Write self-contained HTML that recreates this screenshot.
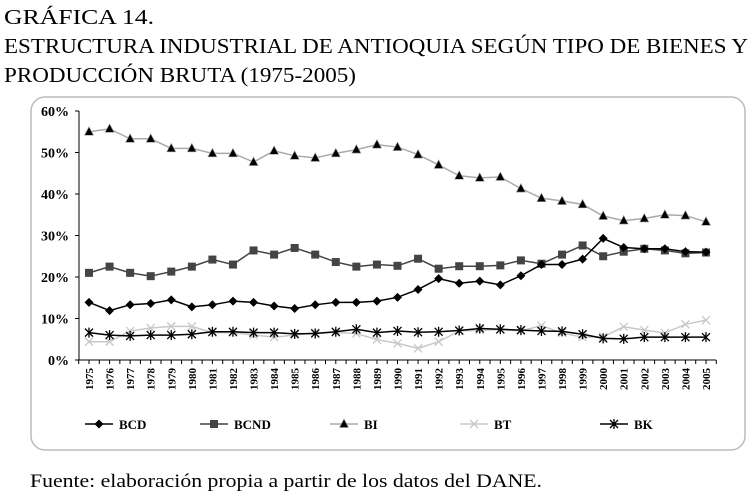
<!DOCTYPE html>
<html><head><meta charset="utf-8"><style>
html,body{margin:0;padding:0;background:#fff;}
svg{display:block;font-family:"Liberation Serif",serif;}
</style></head><body>
<svg id="c" width="752" height="495" viewBox="0 0 752 495">
<text x="4" y="24" font-size="21" textLength="150" lengthAdjust="spacingAndGlyphs">GRÁFICA 14.</text>
<text x="4" y="53" font-size="21" textLength="744" lengthAdjust="spacingAndGlyphs">ESTRUCTURA INDUSTRIAL DE ANTIOQUIA SEGÚN TIPO DE BIENES Y</text>
<text x="4" y="82" font-size="21" textLength="352" lengthAdjust="spacingAndGlyphs">PRODUCCIÓN BRUTA (1975-2005)</text>
<rect x="31" y="97" width="714" height="353" rx="14" fill="none" stroke="#bbb" stroke-width="1.5"/>
<text x="30" y="487" font-size="19" textLength="512" lengthAdjust="spacingAndGlyphs">Fuente: elaboración propia a partir de los datos del DANE.</text>
<g id="plot"></g>
</svg>
<script>
const years = [1975,1976,1977,1978,1979,1980,1981,1982,1983,1984,1985,1986,1987,1988,1989,1990,1991,1992,1993,1994,1995,1996,1997,1998,1999,2000,2001,2002,2003,2004,2005];
const yTicks = [0,10,20,30,40,50,60];
const seriesNames = ["BCD","BCND","BI","BT","BK"];
const bcd = [13.9,11.9,13.3,13.6,14.5,12.8,13.3,14.2,13.9,13,12.4,13.3,13.9,13.9,14.2,15.1,17,19.6,18.5,19,18.1,20.3,23,23,24.3,29.3,27.1,26.8,26.8,26.1,26];
const bcnd = [21,22.5,21,20.2,21.3,22.5,24.2,23,26.4,25.4,27,25.4,23.6,22.5,23,22.7,24.4,22,22.6,22.6,22.8,24,23.2,25.4,27.6,25,26.1,26.8,26.4,25.7,25.9];
const bi = [55,55.7,53.3,53.3,51,51,49.8,49.8,47.7,50.4,49.2,48.7,49.8,50.7,51.9,51.3,49.5,47,44.4,43.9,44.1,41.3,39,38.3,37.5,34.7,33.6,34.1,35,34.8,33.3];
const bt = [4.4,4.4,7,7.7,8.1,8.1,6.6,6.6,6,5.5,6,6.6,6.6,6.4,4.9,4,2.8,4.4,7,7.2,7.3,7,8.3,6.5,5.5,5.6,8,7.2,6.5,8.6,9.6];
const bk = [6.6,6,5.8,6,6,6.2,6.8,6.8,6.6,6.6,6.3,6.4,6.8,7.4,6.6,7,6.7,6.8,7.1,7.6,7.4,7.2,7,6.9,6.2,5.2,5.1,5.5,5.5,5.5,5.5];

const NS="http://www.w3.org/2000/svg";
const g=document.getElementById('plot');
const X0=89, STEP=(706-89)/30, Y0=360, YTOP=111;
const xS=i=>X0+i*STEP;
const yS=v=>Y0-(v/60)*(Y0-YTOP);
function el(t,a,p){const e=document.createElementNS(NS,t);for(const k in a)e.setAttribute(k,a[k]);(p||g).appendChild(e);return e;}

let ax=el('line',{x1:79,y1:YTOP,x2:79,y2:Y0,stroke:'#000','stroke-width':1});


let xa=el('line',{x1:79,y1:Y0,x2:716,y2:Y0,stroke:'#000','stroke-width':1});


yTicks.forEach(v=>{
  el('line',{x1:75,y1:yS(v),x2:79,y2:yS(v),stroke:'#000'});
  const t=el('text',{x:69,y:yS(v)+5,'font-size':14,'font-weight':'bold','text-anchor':'end'});
  t.textContent=v+'%';
  
  
});
years.forEach((yr,i)=>{
  const x=xS(i);
  el('line',{x1:x,y1:Y0,x2:x,y2:Y0+4,stroke:'#000'});
  el('line',{x1:x+STEP/2,y1:Y0,x2:x+STEP/2,y2:Y0+4,stroke:'#000'});
  if(i===0) el('line',{x1:x-STEP/2,y1:Y0,x2:x-STEP/2,y2:Y0+4,stroke:'#000'});
  const t=el('text',{x:0,y:0,'font-size':11,'font-weight':'bold','text-anchor':'end',transform:`translate(${x+4},${Y0+8}) rotate(-90)`});
  t.textContent=yr;
  
  
});

function marker(type,x,y,col,parent){
  if(type==='diamond') el('polygon',{points:`${x},${y-4.5} ${x+4.5},${y} ${x},${y+4.5} ${x-4.5},${y}`,fill:'#000'},parent);
  else if(type==='square') el('rect',{x:x-4,y:y-4,width:8,height:8,fill:'#444'},parent);
  else if(type==='tri') el('polygon',{points:`${x},${y-5} ${x+4.5},${y+3.5} ${x-4.5},${y+3.5}`,fill:'#000',stroke:'#999','stroke-width':0.6},parent);
  else if(type==='x'){el('path',{d:`M${x-4} ${y-4}L${x+4} ${y+4}M${x-4} ${y+4}L${x+4} ${y-4}`,stroke:col,'stroke-width':1.3},parent);}
  else if(type==='star'){el('path',{d:`M${x-4} ${y-4}L${x+4} ${y+4}M${x-4} ${y+4}L${x+4} ${y-4}M${x} ${y-5}L${x} ${y+5}`,stroke:'#000','stroke-width':1.3},parent);}
}
const defs=[
 {d:bi,col:'#aaa',m:'tri',w:1.5,n:'series-bi'},
 {d:bcnd,col:'#444',m:'square',w:1.5,n:'series-bcnd'},
 {d:bt,col:'#c8c8c8',m:'x',w:1.5,n:'series-bt'},
 {d:bk,col:'#000',m:'star',w:1.5,n:'series-bk'},
 {d:bcd,col:'#000',m:'diamond',w:1.5,n:'series-bcd'}
];
defs.forEach(s=>{
  const sg=el('g',{});
  
  
  el('polyline',{points:s.d.map((v,i)=>xS(i)+','+yS(v)).join(' '),fill:'none',stroke:s.col,'stroke-width':s.w},sg);
  s.d.forEach((v,i)=>marker(s.m,xS(i),yS(v),s.col,sg));
});

const legM=['diamond','square','tri','x','star'];
const legC=['#000','#444','#aaa','#c8c8c8','#000'];
const legX=[85,200,330,460,600];
seriesNames.forEach((n,i)=>{
  const lg=el('g',{});
  
  
  const x=legX[i], y=424;
  el('line',{x1:x,y1:y,x2:x+28,y2:y,stroke:legC[i],'stroke-width':1.5},lg);
  marker(legM[i],x+14,y,legC[i],lg);
  const t=el('text',{x:x+34,y:y+5,'font-size':13,'font-weight':'bold'},lg);
  t.textContent=n;
});
</script>
</body></html>
